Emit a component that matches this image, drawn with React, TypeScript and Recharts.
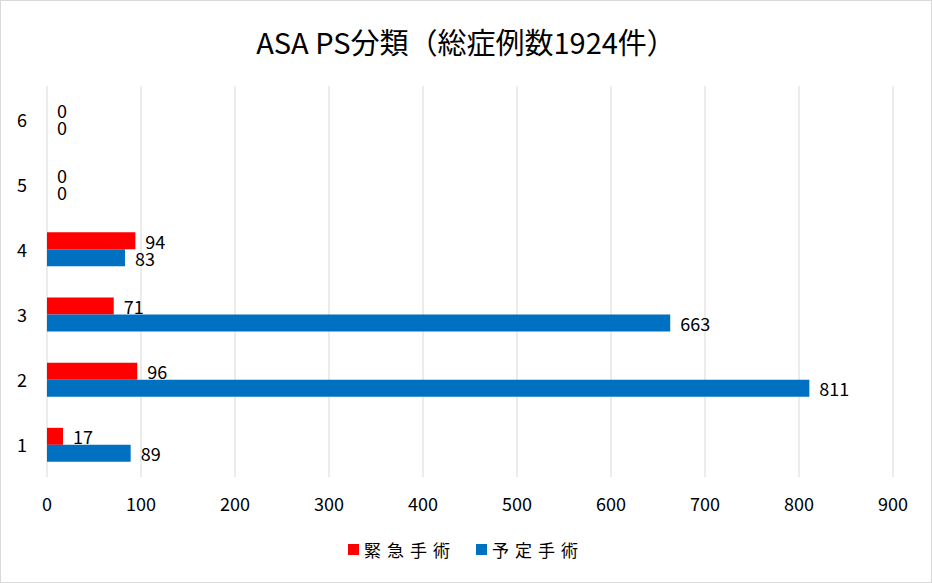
import { BarChart, Bar, XAxis, YAxis, CartesianGrid, LabelList } from "recharts";

const categories = ["6", "5", "4", "3", "2", "1"];
const emergency = [0, 0, 94, 71, 96, 17];
const elective = [0, 0, 83, 663, 811, 89];
const xTicks = [0, 100, 200, 300, 400, 500, 600, 700, 800, 900];

const seriesNames = { emergency: "緊急手術", elective: "予定手術" };
const colors = { emergency: "#FF0000", elective: "#0070C0" };

const data = categories.map((c, i) => ({
  name: c,
  emergency: emergency[i],
  elective: elective[i],
}));

const font = '"Noto Sans CJK JP", "Noto Sans", sans-serif';
const Y_AXIS_W = 46;
const BAR = 17;
const LABEL_GAP = 10;

const labelText = (x: number, y: number, value: number | string, key?: string) => (
  <text key={key} x={x} y={y} dominantBaseline="central" fill="#000" fontSize={18} fontFamily={font}>
    {String(value)}
  </text>
);

const renderLabel = (props: any) => {
  const { x, y, width, height, value } = props;
  return labelText(Number(x) + Number(width || 0) + LABEL_GAP, Number(y) + Number(height) / 2, value);
};

// recharts drops zero-length bars together with their labels, so the "0"
// labels are drawn next to the category tick instead (same band centre)
const CategoryTick = (props: any) => {
  const { x, y, payload } = props;
  const row = data.find((d) => d.name === payload.value);
  const lx = Y_AXIS_W + LABEL_GAP;
  return (
    <g>
      <text x={x} y={y} dominantBaseline="central" textAnchor="end" fill="#000" fontSize={18} fontFamily={font}>
        {payload.value}
      </text>
      {row && row.emergency === 0 && labelText(lx, y - BAR / 2, 0, "e")}
      {row && row.elective === 0 && labelText(lx, y + BAR / 2, 0, "p")}
    </g>
  );
};

export default function App() {
  return (
    <div
      style={{
        position: "absolute",
        left: 0,
        top: 0,
        width: 930,
        height: 581,
        border: "1px solid #d9d9d9",
        background: "#fff",
        fontFamily: font,
      }}
    >
      <div
        style={{
          position: "absolute",
          top: 19,
          left: 0,
          width: "100%",
          textAlign: "center",
          fontSize: 29,
          color: "#000",
        }}
      >
        ASA PS分類（総症例数1924件）
      </div>
      <BarChart
        width={930}
        height={581}
        data={data}
        layout="vertical"
        margin={{ top: 85, right: 38, left: 0, bottom: 75 }}
        barCategoryGap="24%"
        barGap={0}
        style={{ position: "absolute", top: 0, left: 0 }}
      >
        <CartesianGrid horizontal={false} stroke="#d9d9d9" />
        <XAxis
          type="number"
          domain={[0, 900]}
          ticks={xTicks}
          axisLine={false}
          tickLine={false}
          tickMargin={15}
          height={30}
          tick={{ fill: "#000", fontSize: 18, fontFamily: font }}
        />
        <YAxis
          type="category"
          dataKey="name"
          width={Y_AXIS_W}
          axisLine={false}
          tickLine={false}
          tickMargin={14}
          tick={<CategoryTick />}
        />
        <Bar dataKey="emergency" name={seriesNames.emergency} fill={colors.emergency} barSize={BAR} isAnimationActive={false}>
          <LabelList dataKey="emergency" content={renderLabel} />
        </Bar>
        <Bar dataKey="elective" name={seriesNames.elective} fill={colors.elective} barSize={BAR} isAnimationActive={false}>
          <LabelList dataKey="elective" content={renderLabel} />
        </Bar>
      </BarChart>
      <div
        style={{
          position: "absolute",
          top: 536,
          left: 0,
          width: "100%",
          display: "flex",
          justifyContent: "center",
          gap: 20,
          fontSize: 17,
          letterSpacing: 6,
          color: "#000",
        }}
      >
        {(["emergency", "elective"] as const).map((k) => (
          <span key={k} style={{ display: "flex", alignItems: "center", gap: 5 }}>
            <span style={{ width: 11, height: 11, background: colors[k], display: "inline-block" }} />
            {seriesNames[k]}
          </span>
        ))}
      </div>
    </div>
  );
}
